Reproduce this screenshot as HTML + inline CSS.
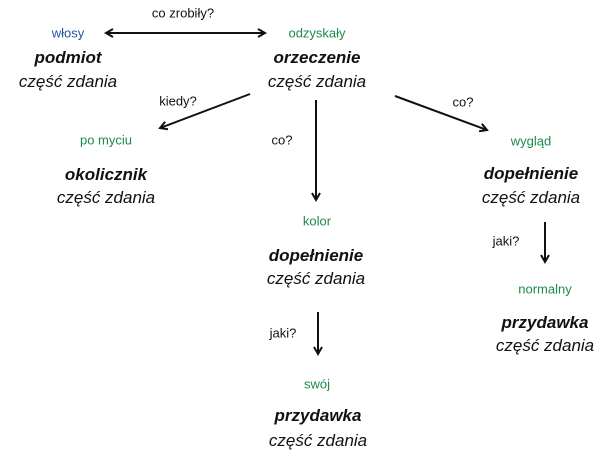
<!DOCTYPE html>
<html><head><meta charset="utf-8"><style>
body{margin:0;width:610px;height:456px;background:#fff;position:relative;overflow:hidden;font-family:"Liberation Sans",sans-serif}
.t{position:absolute;transform:translate(-50%,-50%);white-space:nowrap}
.b{font-weight:bold;font-style:italic;font-size:17px;color:#111}
.c{font-style:italic;font-size:17px;color:#111}
.g{font-family:"Liberation Sans Narrow","Liberation Sans",sans-serif;font-size:13px;color:#1e8a4a}
.q{font-family:"Liberation Sans Narrow","Liberation Sans",sans-serif;font-size:13px;color:#111}
</style></head><body>
<svg width="610" height="456" style="position:absolute;left:0;top:0">
<defs><marker id="a" markerWidth="10" markerHeight="10" refX="8" refY="5" orient="auto" markerUnits="userSpaceOnUse"><path d="M1,1 L8,5 L1,9" fill="none" stroke="#111" stroke-width="2"/></marker>
<marker id="s" markerWidth="10" markerHeight="10" refX="8" refY="5" orient="auto-start-reverse" markerUnits="userSpaceOnUse"><path d="M1,1 L8,5 L1,9" fill="none" stroke="#111" stroke-width="2"/></marker></defs>
<g stroke="#111" stroke-width="2" fill="none">
<line x1="106" y1="33" x2="265" y2="33" marker-start="url(#s)" marker-end="url(#a)"/>
<line x1="250" y1="94" x2="160" y2="128" marker-end="url(#a)"/>
<line x1="316" y1="100" x2="316" y2="200" marker-end="url(#a)"/>
<line x1="395" y1="96" x2="487" y2="130" marker-end="url(#a)"/>
<line x1="318" y1="312" x2="318" y2="354" marker-end="url(#a)"/>
<line x1="545" y1="222" x2="545" y2="262" marker-end="url(#a)"/>
</g></svg>
<div class="t q" style="left:183px;top:13px">co zrobiły?</div>
<div class="t g" style="left:68px;top:33px;color:#2a4fa8">włosy</div>
<div class="t b" style="left:68px;top:58px">podmiot</div>
<div class="t c" style="left:68px;top:82px">część zdania</div>
<div class="t g" style="left:317px;top:33px">odzyskały</div>
<div class="t b" style="left:317px;top:58px">orzeczenie</div>
<div class="t c" style="left:317px;top:82px">część zdania</div>
<div class="t q" style="left:178px;top:101px">kiedy?</div>
<div class="t g" style="left:106px;top:140px">po myciu</div>
<div class="t b" style="left:106px;top:175px">okolicznik</div>
<div class="t c" style="left:106px;top:198px">część zdania</div>
<div class="t q" style="left:282px;top:140px">co?</div>
<div class="t g" style="left:317px;top:221px">kolor</div>
<div class="t b" style="left:316px;top:256px">dopełnienie</div>
<div class="t c" style="left:316px;top:279px">część zdania</div>
<div class="t q" style="left:283px;top:333px">jaki?</div>
<div class="t g" style="left:317px;top:384px">swój</div>
<div class="t b" style="left:318px;top:416px">przydawka</div>
<div class="t c" style="left:318px;top:441px">część zdania</div>
<div class="t q" style="left:463px;top:102px">co?</div>
<div class="t g" style="left:531px;top:141px">wygląd</div>
<div class="t b" style="left:531px;top:174px">dopełnienie</div>
<div class="t c" style="left:531px;top:198px">część zdania</div>
<div class="t q" style="left:506px;top:241px">jaki?</div>
<div class="t g" style="left:545px;top:289px">normalny</div>
<div class="t b" style="left:545px;top:323px">przydawka</div>
<div class="t c" style="left:545px;top:346px">część zdania</div>
</body></html>
